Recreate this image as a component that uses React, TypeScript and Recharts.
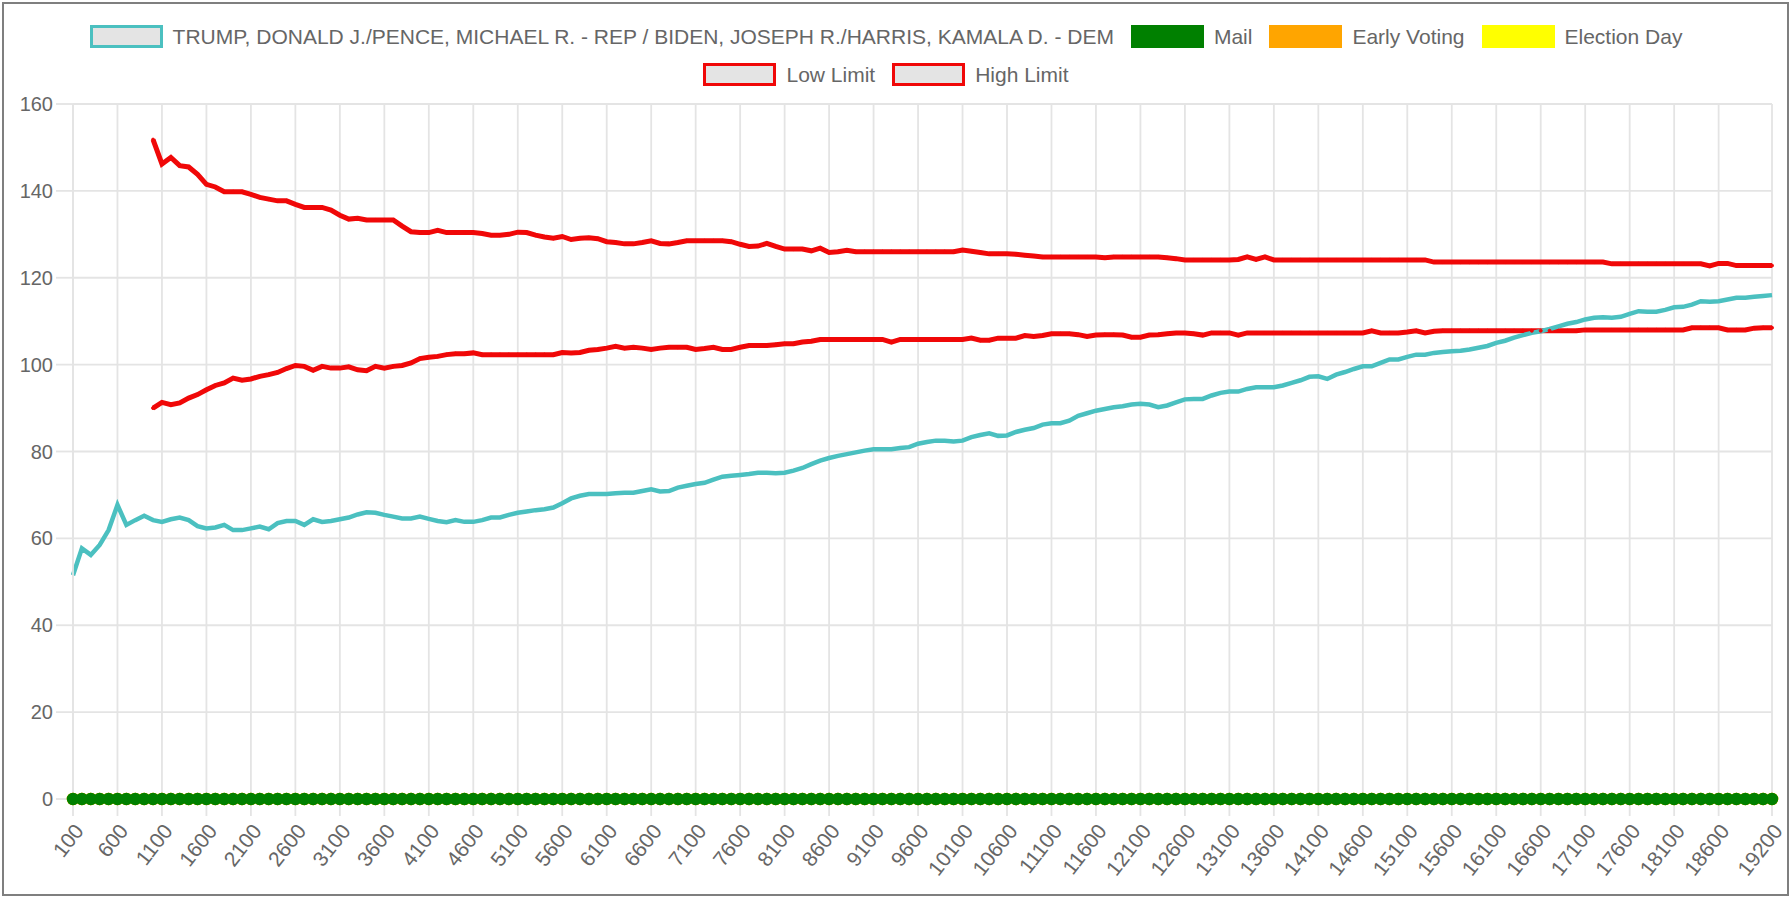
import { CartesianGrid, Line, LineChart, XAxis, YAxis } from 'recharts';

// x categories: ballot count buckets
const categories: number[] = Array.from({ length: 192 }, (_, i) => (i + 1) * 100);

const xTicks = [
  100, 600, 1100, 1600, 2100, 2600, 3100, 3600, 4100, 4600, 5100, 5600, 6100, 6600, 7100, 7600,
  8100, 8600, 9100, 9600, 10100, 10600, 11100, 11600, 12100, 12600, 13100, 13600, 14100, 14600,
  15100, 15600, 16100, 16600, 17100, 17600, 18100, 18600, 19200,
];
const yTicks = [0, 20, 40, 60, 80, 100, 120, 140, 160];

const ratio = [
  51.5, 57.7, 56.2, 58.5, 61.9, 67.7, 63.1, 64.2, 65.2, 64.2,
  63.8, 64.4, 64.8, 64.2, 62.8, 62.3, 62.5, 63.1, 61.9, 61.9,
  62.3, 62.7, 62.1, 63.5, 64.0, 64.0, 63.1, 64.4, 63.8, 64.0,
  64.4, 64.8, 65.5, 66.0, 65.9, 65.4, 65.0, 64.6, 64.6, 65.0,
  64.5, 64.0, 63.7, 64.2, 63.8, 63.8, 64.2, 64.8, 64.8, 65.4,
  65.9, 66.2, 66.5, 66.7, 67.1, 68.1, 69.2, 69.8, 70.2, 70.2,
  70.2, 70.4, 70.5, 70.5, 70.9, 71.3, 70.8, 70.9, 71.7, 72.1,
  72.5, 72.8, 73.5, 74.2, 74.4, 74.6, 74.8, 75.1, 75.1, 75.0,
  75.1, 75.6, 76.2, 77.1, 77.9, 78.5, 79.0, 79.4, 79.8, 80.2,
  80.5, 80.5, 80.5, 80.8, 81.0, 81.8, 82.2, 82.5, 82.5, 82.3,
  82.5, 83.3, 83.8, 84.2, 83.6, 83.7, 84.5, 85.0, 85.4, 86.2,
  86.5, 86.5, 87.1, 88.2, 88.8, 89.4, 89.8, 90.2, 90.4, 90.8,
  91.0, 90.8, 90.2, 90.6, 91.3, 92.0, 92.1, 92.1, 92.9, 93.5,
  93.8, 93.8, 94.4, 94.8, 94.8, 94.8, 95.2, 95.8, 96.4, 97.2,
  97.3, 96.7, 97.7, 98.3, 99.0, 99.6, 99.6, 100.4, 101.2, 101.2,
  101.8, 102.3, 102.3, 102.7, 102.9, 103.1, 103.2, 103.5, 103.9, 104.3,
  105.0, 105.5, 106.2, 106.8, 107.3, 107.7, 108.2, 108.8, 109.4, 109.8,
  110.4, 110.8, 110.9, 110.8, 111.0, 111.7, 112.3, 112.2, 112.2, 112.6,
  113.2, 113.3, 113.8, 114.6, 114.5, 114.6, 115.0, 115.4, 115.4, 115.6,
  115.8, 116.0,
];

const highLimit = [
  null, null, null, null, null, null, null, null, null, 151.8,
  146.2, 147.7, 145.8, 145.5, 143.8, 141.5, 140.9, 139.8, 139.8, 139.8,
  139.2, 138.5, 138.1, 137.7, 137.7, 136.9, 136.2, 136.2, 136.2, 135.6,
  134.4, 133.5, 133.7, 133.3, 133.3, 133.3, 133.3, 131.9, 130.6, 130.4,
  130.4, 130.9, 130.4, 130.4, 130.4, 130.4, 130.2, 129.8, 129.8, 130.0,
  130.5, 130.4, 129.8, 129.4, 129.1, 129.5, 128.8, 129.1, 129.2, 129.0,
  128.3, 128.1, 127.8, 127.8, 128.1, 128.5, 127.9, 127.8, 128.1, 128.5,
  128.5, 128.5, 128.5, 128.5, 128.3, 127.7, 127.2, 127.3, 127.9, 127.2,
  126.6, 126.6, 126.6, 126.2, 126.8, 125.8, 126.0, 126.3, 126.0, 126.0,
  126.0, 126.0, 126.0, 126.0, 126.0, 126.0, 126.0, 126.0, 126.0, 126.0,
  126.4, 126.1, 125.8, 125.5, 125.5, 125.5, 125.4, 125.2, 125.0, 124.8,
  124.8, 124.8, 124.8, 124.8, 124.8, 124.8, 124.6, 124.8, 124.8, 124.8,
  124.8, 124.8, 124.8, 124.6, 124.4, 124.1, 124.1, 124.1, 124.1, 124.1,
  124.1, 124.2, 124.8, 124.2, 124.8, 124.1, 124.1, 124.1, 124.1, 124.1,
  124.1, 124.1, 124.1, 124.1, 124.1, 124.1, 124.1, 124.1, 124.1, 124.1,
  124.1, 124.1, 124.1, 123.6, 123.6, 123.6, 123.6, 123.6, 123.6, 123.6,
  123.6, 123.6, 123.6, 123.6, 123.6, 123.6, 123.6, 123.6, 123.6, 123.6,
  123.6, 123.6, 123.6, 123.2, 123.2, 123.2, 123.2, 123.2, 123.2, 123.2,
  123.2, 123.2, 123.2, 123.2, 122.7, 123.3, 123.3, 122.8, 122.8, 122.8,
  122.8, 122.8,
];

const lowLimit = [
  null, null, null, null, null, null, null, null, null, 90.0,
  91.3, 90.8, 91.2, 92.3, 93.1, 94.2, 95.2, 95.8, 96.9, 96.4,
  96.7, 97.3, 97.7, 98.2, 99.1, 99.8, 99.6, 98.7, 99.6, 99.2,
  99.2, 99.5, 98.8, 98.6, 99.6, 99.2, 99.6, 99.8, 100.4, 101.4,
  101.7, 101.9, 102.3, 102.5, 102.5, 102.7, 102.3, 102.3, 102.3, 102.3,
  102.3, 102.3, 102.3, 102.3, 102.3, 102.8, 102.7, 102.8, 103.3, 103.5,
  103.8, 104.2, 103.8, 104.0, 103.8, 103.5, 103.8, 104.0, 104.0, 104.0,
  103.5, 103.7, 104.0, 103.5, 103.5, 104.0, 104.4, 104.4, 104.4, 104.6,
  104.8, 104.8, 105.2, 105.4, 105.8, 105.8, 105.8, 105.8, 105.8, 105.8,
  105.8, 105.8, 105.2, 105.8, 105.8, 105.8, 105.8, 105.8, 105.8, 105.8,
  105.8, 106.1, 105.6, 105.6, 106.1, 106.1, 106.1, 106.7, 106.5, 106.7,
  107.1, 107.1, 107.1, 106.9, 106.5, 106.8, 106.9, 106.9, 106.8, 106.3,
  106.3, 106.8, 106.9, 107.1, 107.3, 107.3, 107.1, 106.8, 107.3, 107.3,
  107.3, 106.8, 107.3, 107.3, 107.3, 107.3, 107.3, 107.3, 107.3, 107.3,
  107.3, 107.3, 107.3, 107.3, 107.3, 107.3, 107.8, 107.3, 107.3, 107.3,
  107.5, 107.8, 107.3, 107.7, 107.8, 107.8, 107.8, 107.8, 107.8, 107.8,
  107.8, 107.8, 107.8, 107.8, 107.8, 107.8, 107.8, 107.8, 107.8, 107.8,
  108.0, 108.0, 108.0, 108.0, 108.0, 108.0, 108.0, 108.0, 108.0, 108.0,
  108.0, 108.0, 108.5, 108.5, 108.5, 108.5, 108.0, 108.0, 108.0, 108.4,
  108.5, 108.5,
];

// vote-type series are flat at zero across the whole range
const mail = categories.map(() => 0);
const earlyVoting = categories.map(() => 0);
const electionDay = categories.map(() => 0);

const TEAL = '#4bc0c0';
const RED = '#f00808';
const GREEN = '#008000';
const ORANGE = '#ffa500';
const YELLOW = '#ffff00';
const BOX_FILL = '#e4e4e4';
const GRID = '#e4e4e4';
const TEXT = '#666';

const data = categories.map((c, i) => ({
  x: c,
  ratio: ratio[i],
  mail: mail[i],
  early: earlyVoting[i],
  eday: electionDay[i],
  low: lowLimit[i],
  high: highLimit[i],
}));

const legendRows = [
  [
    {
      label: 'TRUMP, DONALD J./PENCE, MICHAEL R. - REP / BIDEN, JOSEPH R./HARRIS, KAMALA D. - DEM',
      stroke: TEAL,
      fill: BOX_FILL,
    },
    { label: 'Mail', stroke: GREEN, fill: GREEN },
    { label: 'Early Voting', stroke: ORANGE, fill: ORANGE },
    { label: 'Election Day', stroke: YELLOW, fill: YELLOW },
  ],
  [
    { label: 'Low Limit', stroke: RED, fill: BOX_FILL },
    { label: 'High Limit', stroke: RED, fill: BOX_FILL },
  ],
];

const ChartLegend = () => (
  <>
    {legendRows.map((row, r) => (
      <div
        key={r}
        style={{
          position: 'absolute',
          left: 0,
          width: 1772,
          top: r === 0 ? 25 : 63,
          height: 23,
          display: 'flex',
          justifyContent: 'center',
          alignItems: 'center',
        }}
      >
        {row.map((item, i) => (
          <div key={i} style={{ display: 'flex', alignItems: 'center', marginRight: i < row.length - 1 ? 17 : 0 }}>
            <div
              style={{
                width: 73,
                height: 23,
                boxSizing: 'border-box',
                border: `3px solid ${item.stroke}`,
                background: item.fill,
                marginRight: 10,
              }}
            />
            <span style={{ fontSize: 21, color: TEXT, whiteSpace: 'nowrap' }}>{item.label}</span>
          </div>
        ))}
      </div>
    ))}
  </>
);

const App = () => {
  return (
    <div
      style={{
        position: 'absolute',
        left: 0,
        top: 0,
        width: 1791,
        height: 898,
        background: '#fff',
        fontFamily: '"Liberation Sans", Arial, sans-serif',
      }}
    >
      <div
        style={{
          position: 'absolute',
          left: 2,
          top: 2,
          width: 1783,
          height: 890,
          border: '2px solid #7f7f7f',
        }}
      />
      <div style={{ position: 'absolute', left: 0, top: 0 }}>
        <LineChart width={1791} height={898} data={data} margin={{ top: 104, right: 19, bottom: 0, left: 0 }}>
          <CartesianGrid stroke={GRID} strokeWidth={1.8} />
          <XAxis
            dataKey="x"
            type="category"
            ticks={xTicks}
            interval={0}
            height={99}
            tickSize={17}
            tickMargin={6}
            angle={-52}
            textAnchor="end"
            axisLine={{ stroke: GRID, strokeWidth: 1.8 }}
            tickLine={{ stroke: GRID, strokeWidth: 1.8 }}
            tick={{ fill: TEXT, fontSize: 21 }}
          />
          <YAxis
            domain={[0, 160]}
            ticks={yTicks}
            width={73}
            tickSize={17}
            tickMargin={3}
            axisLine={{ stroke: GRID, strokeWidth: 1.8 }}
            tickLine={{ stroke: GRID, strokeWidth: 1.8 }}
            tick={{ fill: TEXT, fontSize: 20 }}
          />
          <Line
            dataKey="eday"
            type="linear"
            stroke={YELLOW}
            strokeWidth={3}
            dot={{ r: 5.5, fill: YELLOW, stroke: YELLOW, strokeWidth: 1.5 }}
            isAnimationActive={false}
          />
          <Line
            dataKey="early"
            type="linear"
            stroke={ORANGE}
            strokeWidth={3}
            dot={{ r: 5.5, fill: ORANGE, stroke: ORANGE, strokeWidth: 1.5 }}
            isAnimationActive={false}
          />
          <Line
            dataKey="mail"
            type="linear"
            stroke={GREEN}
            strokeWidth={3}
            dot={{ r: 5.5, fill: GREEN, stroke: GREEN, strokeWidth: 1.5 }}
            isAnimationActive={false}
          />
          <Line
            dataKey="high"
            type="linear"
            stroke={RED}
            strokeWidth={5}
            dot={{ r: 1.5, fill: RED, stroke: RED, strokeWidth: 1 }}
            isAnimationActive={false}
          />
          <Line
            dataKey="low"
            type="linear"
            stroke={RED}
            strokeWidth={5}
            dot={{ r: 1.5, fill: RED, stroke: RED, strokeWidth: 1 }}
            isAnimationActive={false}
          />
          <Line
            dataKey="ratio"
            type="linear"
            stroke={TEAL}
            strokeWidth={4.5}
            dot={false}
            isAnimationActive={false}
          />
        </LineChart>
      </div>
      <ChartLegend />
    </div>
  );
};

export default App;
